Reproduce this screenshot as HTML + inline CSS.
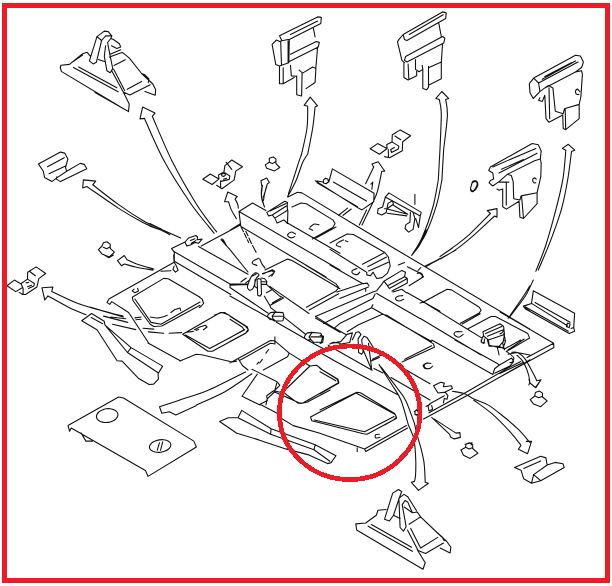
<!DOCTYPE html>
<html><head><meta charset="utf-8"><title>Diagram</title>
<style>html,body{margin:0;padding:0;background:#fff}svg{display:block}</style></head>
<body><svg width="612" height="586" viewBox="0 0 612 586">
<g fill="none" stroke="#111" stroke-width="1.1" stroke-linecap="round" stroke-linejoin="round">
<path d="M90.5 56.3 L87.2 52.3 L82.6 53.7 L69.5 64.4 L60.9 65.2 L60.3 67.5 L61.3 71.4 L119.4 106.2
M73.4 67.5 L118.1 91.8
M78.7 67.1 L116.8 87.8
M72.1 62.2 L82.6 55
M89.4 60.9 L97 36.6 L104.3 31.1 L108.2 31.6 L111.8 35.9 L110.8 38.5
M89.4 60.9 L93.1 63.9 L96.4 62.2 L101.6 40.5 L105.6 35.9 L111.8 35.9
M97 36.6 L101.6 40.5
M105.6 45.8 L104.3 56.3 L106.9 70.7 L110.2 72.7 L112.8 68.8 L108.9 49.7 L107.6 42.5 L110.8 38.5 L113.5 39.5 L119.4 43.8 L120.7 47.1 L116.8 48.4 L111.5 45.8
M98.4 59.6 L104.3 61.5
M110.2 54.3 L120.7 49.7
M109.5 57.1 L121.9 52.5 L123.3 53.1 L129.4 58.1 L141.6 73.5 L152.8 84 L155.7 89.7 L155.2 95.2 L144.9 91.5
M114.1 65.6 L125.2 59.7
M127.2 89.3 L141.6 81.4
M111.4 70.2 L123.3 91.9 L129.8 94.9 L150.2 84.7
M113.7 69.2 L124.6 90.6
M141.6 73.5 L144.9 74.8 L148.9 78.8 L148.2 82.7
M123.3 91.9 L129.2 104.1 L128.5 111.6 L95 92.6
M38.4 163.9 L60.5 152.1 L64.7 153.1 L67.9 159 L65.5 167.6 L66.7 171.3 L80.2 163.4 L84.4 164.4 L86.8 168.8 L60.5 181.6 L56.4 179.1 L56.9 176.7
M38.4 163.9 L43.3 171.3 L44.6 177.4 L51.9 181.6 L56.4 178.1 L66.7 171.3
M47.5 166.8 L64.2 157.7
M49 173.7 L65.5 165.9
M92.7 184.8 L95.7 181.1 L83.4 179.9 L82.7 188 L86.8 186.5
M92.7 184.8 C97 188.1 109.9 198.5 118.3 204.4 C126.6 210.4 135.7 216.3 142.9 220.4 C150 224.5 158.2 227.6 161.3 229
M86.8 186.5 C92.1 190.1 109 202.1 118.3 208.1 C127.6 214.1 135.7 218.7 142.9 222.4 C150 226.1 156.8 228.2 161.3 230.2 C165.8 232.3 168.5 233.9 169.9 234.7
M152.3 116.3 L155 113.1 L142.6 107.1 L140 118.9 L144.5 118.4
M144.5 118.4 C147.7 125.5 156.5 146.9 164.2 161 C171.8 175.1 183 192.1 190.4 203 C197.9 214 204.9 221.6 208.8 226.7 C212.8 231.7 213.2 232.1 214.1 233.2
M152.3 116.3 C155.6 123.7 164.8 146.5 172 161 C179.3 175.4 189.1 192.3 195.7 203 C202.3 213.7 208 220.5 211.5 225.3 C215 230.2 215.8 230.8 216.7 231.9
M265.3 164.9 L269.3 162.3 L269.3 158.3 L273.2 157 L275.9 158.9 L275.9 163.6 L279.8 167.5 L274.5 170.9 L266.7 168.3Z
M269.3 162.3 L272.4 163.6 L275.9 161.5
M235.1 199.1 L237.2 196.4 L227.8 192 L224.6 201.7 L228.5 201.7
M228.5 201.7 C229 203 229.9 206.7 231.2 209.6 C232.5 212.4 235.6 217.2 236.4 218.8
M235.1 199.1 C235.6 199.9 237.2 202.8 237.7 204.3 C238.3 205.9 238.2 207.6 238.3 208.3
M267.2 184.1 L269.3 182.5 L266.7 178 L260.9 180.7 L261.9 186.7
M261.9 186.7 C261.8 188.1 261 192 261.4 195.1 C261.7 198.3 263.6 203.9 264 205.6
M267.2 184.1 C266.7 185.7 265.2 191.1 264.6 193.8 C263.9 196.5 263.7 199.3 263.5 200.4
M281.9 40.7 L279.5 35.8 L317.6 16.9 L321.3 17.4 L320.8 23.5 L289.3 39.5
M290.5 34.6 L317.6 21.1
M272.1 44.4 L276.5 40 L279.5 41.5 L281.9 40.7 L288.1 39.5 L289.3 39.5 L288.8 62.8 L279.5 66 L275.8 64.6Z
M280.7 41.5 L281.5 65.3
M288.1 40.7 L288.1 62.8
M290.5 54.2 L316.3 41.5 L319.3 42.4 L318.3 46.9 L289.3 61.6
M313.4 28.4 L315.1 37
M317.6 46.9 L315.9 67.7
M279.5 66.5 L279.5 83.7 L283.2 83.7 L294.2 77.6
M283.2 67.7 L283.2 83.2
M290.5 65.3 L291.3 75.9 L296.2 76.3
M296.7 75.9 L296.7 94.8 L301.6 96 L302.1 72.7 L299.1 70.2
M302.1 73.4 L312.7 67 L315.9 68.5 L315.1 82.5 L306 88.6
M315.1 107.1 L317.6 105.8 L310.2 97.2 L304.1 105.3 L307.7 106.3
M307.7 106.3 C307.6 109.9 308 120 307 128 C306 135.9 302.5 149.7 301.6 154
M315.1 107.1 C314.7 110.5 313.9 120.1 312.7 128 C311.4 135.8 308.6 149.7 307.7 154
M403.2 34.5 L442.5 11.9 L446.2 12.9 L445.7 18.5 L406.9 40.6 L404.4 39.4Z
M409.3 34.5 L443.2 14.8
M403.2 34.5 L399 39.4 L397.5 41.9 L401.9 60.3 L404.4 62.7
M405.6 56.6 L442.5 36.5 L444.9 38.2 L443.7 43.1 L406.9 62 L404.4 60.3Z
M438.8 23.4 L441.3 36.5
M442.5 44.3 L441.3 62.7
M403.9 62.7 L403.9 77.5 L408.1 79.9 L416.7 75.8 L416.7 71.3
M408.1 64 L408.8 78.7
M415.5 59.6 L415.5 69.4 L419.1 71.8 L422.8 69.4 L422.1 65.2
M422.8 69.4 L422.8 88.5 L426.5 89.8 L428.5 87.3 L428.5 66.4
M428.5 67.7 L441.3 62 L441.3 78.7 L429 84.9
M445.7 99.6 L448.6 98.4 L441.8 91.5 L435.9 98.4 L439.3 99.6
M439.3 99.6 C439.6 101.9 441.1 104.9 441.3 113.1 C441.4 121.4 440.2 143 440 149
M445.7 99.6 C446 102.3 447.7 107.3 447.4 115.6 C447.1 123.8 444.3 143.4 443.7 149
M529.3 83.7 L533.7 78.1 L575.5 55.2 L580.4 56 L583.4 62.1 L581.6 67.5 L575.5 71.9 L544.8 87.9 L539.9 91.6 L533.2 98.5 L530 92.8Z
M533.7 78.1 L538.6 83 L539.9 91.6
M538.6 83 L578 62.1
M542.3 79.3 L575.5 60.9
M544.8 76.4 L571.8 62.6
M575.5 71.9 L581.6 70.7 L582.4 74.4 L580.9 96.5 L579.2 104.4
M579.9 91.6 C579.5 91.2 578.2 89.2 577.5 89.1 C576.7 89.1 575.7 90.3 575.5 91.1 C575.3 91.9 575.9 93.5 576.5 94.1 C577.1 94.6 578.5 94.5 578.9 94.6
M544.8 87.9 L548.5 85.5 L552.9 87.9 L555.3 111.3 L563.2 113.7 L564.4 108.8 L579.2 104.4 L579.2 118.6 L565.7 129.7 L563.2 128.5 L562.7 114.9 L549 122.3 L546 118.6 L544.8 95.3 L542.3 101.4 L538.6 100.2 L539.9 97.7
M549 87.9 L549.7 118.6
M565.2 109.3 L565.7 129.7
M490.4 166.9 L532.2 143.5 L538.3 144.7 L541.2 150.9 L540.3 159 L534.6 160.7 L507.6 174.2 L499 181.6 L492.8 186 L489.1 182.8 L490.4 180.4 L493.6 179.1 L492.8 173 L488.7 170.5Z
M492.8 166.9 L535.8 148.4
M499 173 L537.1 153.3
M501.4 169.3 L523.5 159.5
M540.3 159 L541.2 163.2 L540.8 176.7 L537.1 192.7
M536.3 179.1 C536 178.9 535 177.8 534.4 177.9 C533.7 178.1 532.7 179.3 532.6 180.1 C532.6 180.9 533.3 182.4 533.9 182.8 C534.4 183.2 535.5 182.6 535.8 182.6
M507.6 174.2 L511.3 175.5 L513.2 181.6 L513.7 198.8 L519.9 200 L521.1 195.9 L537.1 192.7 L537.1 203.7 L523.5 218.5 L519.9 217.2 L519.1 201.3 L506.3 209.1 L502.7 206.7 L502.7 189 L499 190.2 L497 189
M506.3 182.8 L506.3 204.9
M499 182.1 L508.8 182.1
M521.6 196.3 L523.5 218.5
M473.2 181.1 C474.1 180.6 476.2 180.7 476.9 181.6 C477.6 182.5 478 184.9 477.4 186.5 C476.7 188.2 474.3 190.8 473.2 191.4 C472.1 192 471 191.4 470.7 190.2 C470.4 189.1 471 186.1 471.5 184.6 C471.9 183 472.3 181.6 473.2 181.1Z
M490.4 213.5 L487.2 210.6 L497 208.6 L497 217.2 L494.6 216
M490.4 213.5 C486.9 217 475.8 228.7 469.5 234.4 C463.1 240.2 457.2 244.3 452.3 248 C447.4 251.6 442 255.1 440 256.6
M494.6 216 C490.8 219.5 478.6 231.2 471.9 236.9 C465.3 242.6 460.1 246.7 454.7 250.4 C449.4 254.1 442.5 257.6 440 259
M571.5 151.6 L574.7 150.2 L568.3 144.3 L562.4 148.4 L565.8 150.2
M565.8 150.2 C565.3 155 564.6 169 562.9 179.1 C561.1 189.3 558.4 200 555.5 211.1 C552.6 222.2 548.9 235.5 545.7 245.5 C542.4 255.5 537.5 267 535.8 271.3
M571.5 151.6 C570.9 156.2 569.4 169.6 567.8 179.1 C566.1 188.6 564.5 198.4 561.6 208.6 C558.8 218.9 554.5 230.3 550.6 240.6 C546.7 250.8 540.3 265.2 538.3 270.1
M265.9 210.6 L252.5 203 L239 211.5 L240.8 226.4
M287.9 197.1 L297.4 192.2 L301.9 192.9
M301.9 192.9 L365 231 L530 329.1
M292 207 L301 203 L306.4 203.7 L332.8 219.9 L335.1 223.5 L332.8 227.6 L312.3 239
M315.9 237.9 L336 227.1
M291.1 232.1 C290.7 232.4 289 232.9 288.4 233.6 C287.9 234.2 287.4 235.4 287.9 236.1 C288.3 236.8 290 237.8 291.1 237.9 C292.2 238 294.1 236.8 294.7 236.6
M292 232.1 L295.6 233.9
M310 227.1 C310.7 226.6 313 224.4 314.5 224 C316 223.7 318.2 224.8 319 224.9
M309.1 228.5 L312.7 230.3
M266.8 212.4 L284.8 201.2 L287.5 202.5 L287.2 205.5 L272.2 215 L268.6 215.9Z
M269.9 210.9 L286.1 203.4
M272.2 215 L274.9 218.1 L287.5 210.2 L287.2 205.5
M274.9 218.1 L277.1 223.1 L283.9 219.9 L287.5 223.5 L287.9 210.2
M262.4 185.4 C262.2 187.3 261.1 193.5 261.5 197.1 C261.8 200.7 264 205.3 264.5 207
M266.8 186.3 L263.3 197.1
M230 230.3 L239.9 224
M241.1 227.1 L243.5 231.8
M244.4 233.6 L246.5 237.9
M247.3 239.7 L248.7 242.5
M245.8 231.2 L248 235.7
M248.9 237.9 L251.6 243.8
M252.5 245.6 L256.1 252.3
M258.8 258.2 C257.9 258.6 254.4 260 253.4 260.9 C252.3 261.8 251.9 262.8 252.5 263.6 C253.1 264.3 256.2 265.1 257 265.4
M259.7 259.1 L262 264.1 L265 268.1
M262.4 273.5 L272.2 270.8 L274 272.6 L271.7 276.2
M330 242.9 L347.1 234 L353.4 234.5 L384.8 252.5 L388.4 257 L390.2 265.9 L387.5 273.1 L382.1 277.6 L376.7 278.5 L373.1 272.2 L370.4 275.8 L366.8 274.9 L366.8 272.2
M384.8 252.5 L362.4 264.2
M386.6 257 L367.7 266.8
M389 262 L368.6 271
M343.5 239.9 C342.6 240.3 339.3 241.7 338.1 242.6 C336.9 243.5 335.8 244.5 336.3 245.3 C336.7 246 340 246.8 340.8 247.1
M345.3 240.8 L348 241.7
M357 268.6 C356.2 268.9 353.2 269.7 352.5 270.4 C351.7 271.2 351.7 272.4 352.5 273.1 C353.2 273.8 355.8 274.7 357 274.6 C358.2 274.4 359.2 272.6 359.7 272.2
M330 249.4 L365.9 271.7
M330 265 L363.3 283.9
M383.9 281.2 L401.9 270.4 L405.5 272.2 L404.6 276.7 L387.5 285.7Z
M387.5 285.7 L389.3 288.4 L407.3 278.5 L404.6 276.7
M392 291.1 L407.3 283 L407.3 278.5
M392.9 292 L401.9 289.3 L406.4 292.9
M377.1 290.2 L382.1 283.9 L383.9 281.2
M376.7 293.6 L419.9 318.4
M371.3 307.6 L419.9 335
M402.8 295.6 C401.9 295.8 398.6 295.9 397.4 296.5 C396.2 297.1 395.3 298.5 395.6 299.2 C395.9 299.9 397.9 301 399.2 301 C400.5 301 402.9 299.5 403.7 299.2
M406.9 292.5 L440 311.2
M407.3 266.8 L419.9 273.1 L423.5 276.7 L409.1 285.7
M398.3 265 L404.6 262.4
M423.5 301.9 L440 292.9
M425.3 265.9 L440 258.8
M420.8 267.7 L418.1 270.4
M426.2 230 C425.1 232.4 422.3 240.2 419.9 244.4 C417.5 248.6 413.1 253.4 411.8 255.2
M239 211.5 L340 269.9
M241 226.5 L326 277
M287.5 223.1 L340 253.3
M265 269.9 L287.5 259.1 L292 260.5 L340 288.7
M230 285.1 L248 284.4
M230 287.5 L268.1 313.2
M230 295.9 L274.6 321.1
M230 316.2 L245.3 326.1 L248.3 329.3 L245.8 332.9 L230 341.4
M230 319.3 L242.2 327 L244 329.7 L230 337.8
M315.4 318 L340 332.4
M305.5 265 L336 283.9 L338.7 287.5 L336 291.1 L306.4 307.2
M309.1 309.9 L338.7 293.8
M267.7 315.3 L270.4 312.6 L274.9 312.1 L283 312.6 L283.9 316.2 L283 320.7 L275.8 321.1 L273.1 318.9 L270.4 319.8 L267.7 317.1Z
M274.9 312.6 L272.2 316.2 L273.1 318.9
M273.1 316.2 L283.6 316.2
M304.6 336 L307.3 332.9 L311.8 332.4 L320.8 333.3 L322.6 336.9 L321.3 342.3 L313.6 342.3 L310.9 339.6 L307.3 340.1 L304.6 337.8Z
M311.8 332.9 L309.1 336.9 L310.9 339.6
M310.9 336.9 L321.7 336.9
M283.9 317.1 L305.5 334.2
M276.4 322.2 L314.5 344.1 L328 351.3
M230 363 L238.1 358.5 L270.4 340.5 L274.9 340.8 L289.3 353.1 L287.5 356.7 L263.3 370
M239.9 360.3 L270.4 343.2 L274 343.7
M274.9 336.9 L274.9 344.1
M265.9 353.1 L268.6 349.5
M259.7 363 L262.4 359.4
M257 364.2 L258.8 362.1
M238.1 358.5 L242.6 365.7 L248 370
M289.3 353.1 L310 366
M329.8 344.1 L333.3 342.3 L340 343.2
M185 242 L171.6 248.6 L174.3 252.2 L174.3 261.2
M174.3 251.7 L230 284.1 L248 284.1
M230 284.6 L230 287.6
M174.3 261.2 L230.9 294.5
M198.5 246.5 L248 274.3
M201.2 245.9 L239.9 225.3
M221 239.7 L229.1 248.6 L248 272
M221.9 238.8 L225.5 245
M223.3 239.7 L226.4 245.6
M185 242 L188.6 237.9 L195.8 235.5 L197.6 237 L197.1 239.7 L202.1 239.1 L198.5 243.3 L194.9 242.4 L190.4 245 L186.8 245.9Z
M190.4 240.6 L194.9 238.8
M191.3 243.3 L195.8 240.6
M150 223.5 L161.7 229.4 L180.6 237.9
M150 226.2 L160.8 230.1
M199.4 297.4 L202.1 299 L203.6 303.5 L200.3 307.1 L199.4 307.6
M214.7 315 L221.9 312.5 L229.1 315
M247.7 285.4 C248.3 283.4 250 278.6 251.2 276.6 C252.3 274.5 253.6 273.7 254.6 273.1 C255.6 272.6 256.3 272.8 257.1 273.1 C257.8 273.5 259.2 274.2 259 275.1 C258.9 276 257 276.5 256.1 278.5 C255.2 280.6 254.6 285.4 253.6 287.4 C252.6 289.3 251.2 290.1 250.2 290.3 C249.2 290.5 248.2 289.2 247.7 288.3 C247.3 287.5 247.2 287.4 247.7 285.4Z
M252.6 276.1 L256.1 274.1
M255.1 279.5 L254.6 286.4 L256.6 287.8
M257.1 279.5 L258.5 278.5 L261 279.5 L261.5 294.2 L260 296.2 L257.7 295.2Z
M261 278 L264.4 278.5 L266.9 281.5 L266.4 284.4 L261.5 284.4
M261.5 281.5 L266.4 282
M264.4 296.2 L269.8 305.5 L283.5 298.1 L279.1 295.7 L270.8 288.3 L266.4 284.4
M266.4 292.7 L271.8 289.8
M272.3 303 L280.6 298.1
M269.8 305.5 L270.8 307.9 L276.2 311.9
M240.9 282 L246.3 278
M245.8 282.9 L249.7 280
M262.9 274.1 L272.3 269.7 L274.7 271.2 L273.7 273.1 L268.8 276.6
M301.6 154 C301.1 155.6 299.6 159.5 298.3 163.4 C297 167.3 295.5 172.6 293.8 177.7 C292.1 182.8 289.3 191.2 288.4 193.9
M307.8 154 C307.2 154.8 305.5 157.3 304.5 159 C303.5 160.7 303.2 160.9 301.9 164.3 C300.6 167.7 298.4 174.9 296.5 179.5 C294.6 184.1 291.7 189.2 290.2 192.1 C288.7 194.9 287.9 195.8 287.5 196.6
M381.8 171.2 L384.8 171.2 L378.2 161.7 L371.9 164 L373.7 167.1
M373.7 167.1 L365.6 183.8
M381.8 171.2 C381 174.7 378.9 186.4 377.3 191.9 C375.6 197.4 374.4 199 371.9 204.5 C369.3 210 363.7 221.6 362 225
M371 184.2 L372.8 182 L371.9 189.2
M315.3 180.8 L358.4 208.1 L362 209.9 L373.7 201.8 L374.1 193.3 L332.4 168.9 L328.8 182
M315.3 180.8 L323.4 182
M317.1 182.9 L357.5 206.6
M333.3 182 L366.5 200.9
M323.4 180.2 L325.2 178.4 L327.9 179 L328.4 182 L326.1 183.8 L323.4 182.9Z
M338.6 215.3 L347.6 208.1
M343.1 215.3 L351.2 209
M366.5 209.9 L359.3 225
M385.3 197.1 L388.9 192.9 L421.2 212.4 L420.3 215.9 L387.1 198Z
M385.3 197.1 L382.6 207 L378.1 208.8 L377.5 213.3 L381.7 215 L386.2 212.4 L388 203.4 L392.5 200.7 L393.4 204.3 L387.1 208.8 L384.4 208.8
M386.2 208.8 L407.7 214.2 L393.4 205.2
M387.1 213.3 L406.8 215.9
M410.4 212.4 L409.9 222.2 L405.9 224.6 L405 228.5 L408.6 232.1 L413.1 229.4 L414.9 218.6 L413.1 212.4
M415.8 218.6 L418.5 227.6 L420.3 215.9
M414.9 194.4 L414.9 204.3
M438.3 180 C437.4 184.5 435.6 197.4 432.9 207 C430.2 216.5 425.7 229.4 422.1 237.5 C418.6 245.6 413.4 252.5 411.7 255.5
M441.9 180 C441 184.2 439.2 196.2 436.5 205.2 C433.8 214.2 429.6 225.8 425.7 233.9 C421.8 242 415.2 250.4 413.1 253.7
M439.9 258.5 L426.6 266.3
M440 149 L438.3 180
M443.7 149 L441.9 180
M472.5 182.7 C473.2 182.2 475.3 181.3 476 181.8 C476.8 182.2 477.4 183.9 476.9 185.4 C476.5 186.9 474.4 190.2 473.3 190.8 C472.3 191.4 471 190 470.7 189 C470.4 187.9 471.3 185.5 471.6 184.5 C471.9 183.4 471.7 183.1 472.5 182.7Z
M455.9 250 C453 251.6 443.1 257.2 438 259.9 C432.9 262.6 427.5 265.1 425.4 266.2
M420 303 L423.6 302.1 L447 289.2 L451.5 289.9 L479.3 307.2 L481.1 310.2 L479.3 312.9 L460.4 323.3
M462.2 324.1 L480.2 313.8
M423.6 302.1 L466.7 328.7 L482 338.1
M420 318.3 L481.1 355
M462.2 331.8 C461.2 331.8 457.3 331.3 455.9 331.8 C454.6 332.2 453.7 333.6 454.2 334.5 C454.6 335.4 457.1 337.2 458.6 337.2 C460.1 337.2 462.4 334.9 463.1 334.5
M467.6 329.1 L491 316.5 L495.5 316.5 L527.8 333.6 L529.6 338.1 L506.3 351.6
M508.1 349.8 L524.2 339
M482.9 331.8 L500 323.7 L503.6 326.4 L504.5 334.5 L488.3 339.9 L483.8 336.3Z
M485.6 333.6 L501.8 326.4
M487.4 336.3 L502.7 330
M482.9 336.3 L481.1 341.7 L483.8 343.5 L484.7 339
M488.3 339.9 L489.2 345.3 L497.3 347.1 L499.1 355
M504.5 334.5 L502.7 343.5 L504.5 349.8
M497.3 347.1 L503.6 348
M530 285.9 C528.4 288.3 524.3 294.9 520.7 300.3 C517 305.7 510.2 315.3 508.1 318.3
M530 303.9 L523.3 306.6 L530 311.1
M508.1 354.2 L517.1 352.5 L530 355
M417.3 273.4 C417.9 273.3 420 272.6 420.9 273 C421.8 273.5 422.8 275 422.7 276.1 C422.5 277.1 420.4 278.6 420 279.1
M531.5 303.4 L533.3 290.8 L574.6 313.3 L573.7 327.6 L571 328.5
M567.4 325.8 L531.5 303.4 L523.4 306.1 L525.2 308.8 L569.2 333.6 L574.6 331.2 L573.7 327.6
M525.5 307 L568.3 331.2
M535 302.5 L570.1 322.2
M567.4 323.1 L570.1 324 L569.2 327.6 L566.5 326.7Z
M500 312 L553.6 343.3 L553.9 347.4 L500 377.1
M553.6 343.3 L527 357.6
M500 373.5 L522.5 362.7
M533.3 280 C531.9 282.7 529.2 289.9 525.2 296.2 C521.1 302.5 511.7 314.2 509 317.7
M511.7 352.3 C512.7 352.3 515.7 351.7 518 352.8 C520.2 353.9 522.6 355.6 525.2 359.1 C527.7 362.5 531.3 369.9 533.3 373.5 C535.2 377.1 536.2 379.5 536.8 380.7
M517.1 355.5 C518 356.4 520.8 358.5 522.5 360.9 C524.1 363.3 525.8 366.6 527 369.9 C528.2 373.2 529.4 378.1 529.7 380.7 C530 383.2 528.9 384.2 528.8 385
M536.8 380.7 L541 379.8 L535.9 387.8
M500 324 C500.6 324.5 503.1 325.4 503.6 326.7 C504 328.1 503.3 330.9 502.7 332.1 C502.1 333.3 500.4 333.6 500 333.9
M503.6 333.9 C503.9 335.1 505.5 338.7 505.4 341.1 C505.2 343.5 503.1 347.1 502.7 348.3
M507.2 351.9 C508.2 352.8 512.6 355.6 513.5 357.3 C514.4 358.9 513.2 360.9 512.6 361.8 C512 362.7 510.3 362.5 509.9 362.7
M431.7 340 L492.8 374.5 L494.6 368.8 L499.1 365.2 L511.7 358 L513.5 361.6 L509.9 366.1 L494.6 373.3
M455 340 L497.3 363.4 L499.1 365.2
M429 412.8 L464.9 393 L509.9 367 L520.7 361.6
M423.6 419.1 L466.7 395.7 L522.5 364.3 L530 359.8
M430.8 363.4 C429.9 363.4 426.4 362.8 425.4 363.4 C424.3 364 423.9 366.1 424.5 367 C425.1 367.9 427.6 368.9 429 368.8 C430.3 368.6 432 366.5 432.6 366.1
M433.5 385.8 L440.7 382.2 L444.3 383.1 L443.4 386.7 L451.5 385.8 L452.4 388.5 L445.2 392.1 L438 393Z
M445.2 392.1 L447.9 395.7 L447 399.3 L444.3 398.4 L443.4 402.9
M444.3 395.7 L429.9 403.8 L428.1 406.5 L429 411 L432.6 409.2 L431.7 405.6
M452.4 391.2 C454.3 391.6 460.4 392.3 464 393.6 C467.6 394.9 469.9 397 473.9 399 C478 400.9 483.2 402 488.3 405.1 C493.4 408.1 499.4 413.2 504.5 417.3 C509.6 421.4 514.6 425.7 518.9 429.9 C523.1 434.1 528.1 440.4 530 442.5
M473.9 400.2 C476.9 402.5 485.9 408.5 491.9 413.7 C497.9 418.9 505.1 426.5 509.9 431.7 C514.7 436.9 518.9 442.8 520.7 445
M431.7 417.3 L449.7 434.4 L450.6 437.1 L454.2 438.9 L460.4 437.4 L459.9 432.6 L455.9 433.1 L434.4 419.1
M481.1 340 L482 342.7 L484.7 342.7
M487.4 340 L489.2 346.3 L499.1 346.3 L504.5 340
M499.1 346.3 L504.5 349 L520.7 340
M464.9 444.2 L472.1 442.8 L471.2 445
M330.8 343.4 L340.7 341.6 L347 334.4 L352.4 332.9 L349.7 342.5 L339.8 344.3
M352.4 339.8 L355.9 332.6 L358.6 331.7 L361 334.4 L358.1 338.9 L358.6 352.4 L361.7 354.2 L363.1 352 L361.7 339.8 L364 336.2 L367.1 337.6 L373 347
M363.1 349.7 L371.8 370.3 L368.5 343.4
M379 364.6 C381.1 367.9 388.2 378.8 391.9 384.7 C395.6 390.6 398.1 393.3 400.9 400 C403.6 406.7 407.2 420.8 408.4 425
M381.1 367.1 C383.8 370.6 393.2 382.7 397.3 388.3 C401.4 393.9 403.1 395 405.9 400.9 C408.8 406.7 413 419.6 414.4 423.3
M328.1 345.2 L372.1 370.3
M373.9 368.5 L382.9 373
M391 377.5 L430 400
M320 352.4 L337.1 362.2 L397.3 394.6
M320 368.5 L338 379.3 L338.9 382.9 L320 393.7
M320 371.8 L335.8 380.8
M320 409.9 L356.8 392.3 L360.4 392.8 L394.6 413.5 L396.4 417.1 L393.7 419.8 L384.7 425
M371.2 361 L379.3 357.4
M427.8 363.1 C427.1 363.4 423.8 364 423.3 364.9 C422.9 365.8 424 367.9 425.1 368.5 C426.3 369.1 429.2 368.5 430 368.5
M401.8 367.6 L430 383.8
M320 335.3 L323.6 336.2 L322.7 342.5 L320 343.4
M414.4 411.7 C415 411.2 416.9 409 418 409 C419 409 420.7 410.6 420.7 411.7 C420.7 412.7 418.9 414.8 418 415.3 C417.1 415.7 415.7 414.5 415.3 414.4
M426 406.3 L430 404.5
M310.5 417 L356 392.9 L395.3 414.6 L396.6 418.3 L367.1 434.2 L363.4 433.7 L311.8 420.7Z
M314.2 420 L364.6 431.8 L394.1 416.5
M379.4 434.2 C378.7 434.3 376.3 434.1 375.7 434.7 C375.1 435.3 374.9 437.5 375.7 437.9 C376.4 438.3 379.4 437.3 380.1 437.2
M281.1 418.3 L293.3 425.6 L319.1 433 L364.6 449 L406.4 425.6
M364.6 449 L365.8 451.4 L407.6 428.1
M357.2 447.7 L357.2 451.4
M286 396.9 L300.7 403.5 L306.9 402.3 L330.2 390
M415 410.9 L417.4 409.7 L418.7 414.6 L415 414.6Z
M386.1 509.5 L378 510.3 L376.3 515.2 L365.7 523 L355.8 523.9 L356.6 530 L423 569.3 L425.2 562.8 L417.3 549.7
M368.1 526.2 L412.4 551.3
M371.4 524.6 L411.6 547.2
M407.5 530 L418.1 550.5 L425.5 553.4 L443.5 543.1
M410.7 528.4 L420.6 548 L437.8 537.4
M409.1 524.3 L420.6 516.9
M404.2 507 L412.4 512.8 L417.3 512 L420.6 516.9 L437 532.5 L446.8 541.5 L450.9 547.2 L450.1 553 L440.2 548
M437 532.5 L441.9 536.6 L444.3 540.7
M384.5 519.3 L392.7 493.1 L398.4 489.5 L401.7 491.5 L399.3 498 L393.5 515.2 L389.4 521Z
M398.9 498.4 L403.9 494.4 L407.8 496.7 L416.5 510.8
M402.2 504.6 L405 500.5 L407.8 502.1 L412.4 512.8
M398.9 498.4 L400.1 527.5 L403.4 531.1 L406.1 526.7 L402.2 504.6
M393.5 515.2 L400.1 518.5
M174.1 262.2 L108.9 299 L107.1 302.6 L109.8 304.4 L111.6 301.7
M112.5 302.1 L128.6 312.5 L149.3 344
M200 297.2 L168.2 278.7 L163.7 278.4 L132.2 297.2 L133.1 300.8 L150.2 324.2 L153.8 326.5 L161.9 326 L200 305.3
M134.9 299 L151.1 322.4 L161 324.2 L200 302.1
M150.2 317 C151.6 317.2 155.5 318.2 158.3 317.9 C161.1 317.6 165.8 315.7 167.3 315.2
M170.9 312.5 L174.5 309.8 L179.9 308 L180.8 310.7
M134 289.2 L132.2 290.9 L134.9 292.7 L138.5 290.9 L137.6 288.3
M127 259.7 L124.3 255.5 L117.5 260.6 L121.6 265.8 L124.3 264
M127 259.7 C128.6 260.4 132.3 262.4 136.7 264 C141.2 265.5 151 268.2 153.8 269
M124.3 264 C126.4 264.5 132 266.2 136.7 267.2 C141.5 268.2 150.2 269.6 152.9 270.1
M104.4 255 L108.9 257.7 L113.4 255
M173.6 255 L174.1 262.2
M174.1 262.2 L176.3 265.8 L178.1 270.3 L175.4 272.1 L173 269.4 L174.1 266.1
M161 271.2 L170.9 270.8
M90 307.1 L123.3 317
M103.5 316.1 L127.7 322.4
M110.7 317 L125.9 318.8
M112.5 324.2 L135.8 329.6
M134.9 317.9 L141.2 317
M135.8 319.7 L141.2 319.3
M143 328.3 L153.8 329.1
M148.4 331.9 L163.7 333.2
M169.1 333.2 L181.7 332.6
M187.1 332.3 L193.3 331.4
M196 330.5 L198.7 329.6
M182.7 334.2 L220.4 312.6 L224.9 312.6 L247.4 327 L248.3 330.6 L245.6 333.3 L212.4 351.2 L207.9 351.2Z
M185.4 335 L209.7 348.5 L244.7 329.7
M194.4 329.7 L199.8 327 L205.2 325.2 L207 327 L203.4 329.7
M180 361.1 L196.2 354.3 L201.6 354.8 L232.1 362 L236.6 361.1
M180 399.8 C184.5 398.3 196 395.4 207 390.8 C217.9 386.1 239.2 375 245.6 371.9
M196.2 405 C201 402.8 215.6 396.9 224.9 391.7 C234.2 386.5 247.4 376.7 251.9 373.7
M251.9 369.2 L277.1 381.8 L274.4 392 L267.2 398.9 L265.9 405
M257.3 374.1 L242 396.2 L260 405
M274.4 392 L290 398.5
M278 382.7 L279.8 385.4 L275.3 389.9
M98.4 249.7 L102.1 246 L103.3 242.8 L107 241.8 L110.2 244.3 L110.2 248.4 L114.4 252.1 L109.4 257 L102.1 254.1Z
M103.3 247.2 L106.7 248.7 L110.2 246.7
M51.7 291.4 L52.9 287 L41.9 287.7 L44.8 300 L48 295.9
M51.7 291.4 C56.2 293.5 69.3 300.2 78.7 303.7 C88.1 307.2 100.8 310.3 108.2 312.3 C115.6 314.4 120.5 315.4 123 316
M48 295.9 C51.5 297.8 62.5 304.3 68.9 307.4 C75.2 310.6 83.2 313.5 86.1 314.8
M68 425.4 L118.6 397 L123.5 398 L193.8 441.1 L196.4 447 L148 476.4 L145.4 470.5 L71.2 428 L69.6 431.3Z
M81 432.9 L85.9 441.1 L92.5 441.1
M117.9 414 C118 414.9 117.8 415.9 117.4 416.7 C117 417.6 116.3 418.5 115.5 419.3 C114.6 420 113.4 420.8 112.2 421.3 C111 421.8 109.6 422.2 108.2 422.4 C106.9 422.6 105.4 422.6 104.1 422.5 C102.7 422.4 101.4 422 100.4 421.6 C99.3 421.1 98.4 420.4 97.7 419.7 C97.1 419 96.7 418.1 96.5 417.2 C96.4 416.4 96.5 415.4 96.9 414.5 C97.3 413.6 98.1 412.7 98.9 412 C99.8 411.2 101 410.5 102.2 410 C103.4 409.4 104.8 409 106.2 408.8 C107.5 408.6 109 408.6 110.3 408.7 C111.6 408.9 113 409.2 114 409.7 C115.1 410.1 116 410.8 116.6 411.5 C117.3 412.3 117.7 413.1 117.9 414Z
M170.8 444.4 C170.9 445.2 170.7 446.1 170.3 446.9 C169.9 447.7 169.2 448.5 168.3 449.2 C167.4 449.9 166.3 450.6 165.1 451.1 C163.9 451.6 162.4 451.9 161.1 452.2 C159.7 452.4 158.2 452.4 156.9 452.3 C155.6 452.2 154.3 451.9 153.2 451.5 C152.2 451.1 151.3 450.5 150.6 449.9 C150 449.2 149.6 448.4 149.5 447.6 C149.3 446.8 149.5 446 149.9 445.2 C150.3 444.4 151.1 443.5 151.9 442.8 C152.8 442.1 154 441.4 155.2 441 C156.4 440.5 157.8 440.1 159.2 439.9 C160.6 439.7 162.1 439.6 163.4 439.7 C164.7 439.8 166 440.1 167 440.5 C168.1 440.9 169 441.5 169.6 442.2 C170.3 442.8 170.7 443.6 170.8 444.4Z
M159.5 442.7 L157.2 450.3
M162.7 441.8 L160.5 450.3
M148 343.1 L180.7 361
M159.5 406.8 L180.1 399.9
M175.8 415 L196.1 405.8
M159.5 406.8 L161.8 413.3 L169.3 411.7 L175.8 415
M241.7 410.4 L271.1 428.8 L315.2 444.8 L336 455.8 L331.1 462.6 L327.5 463.6 L307.8 454.6 L285.8 448.9 L258.8 439.9 L236.8 433.2 L219.6 421.5 L228.2 417.8 L238 417.8 L241.7 410.4
M238 417.8 L270.6 434.2 L314 449.7 L329.9 461.2
M271.1 428.8 L270.6 434.2
M315.2 444.8 L314 449.7
M260 404.3 L267.4 400.6 L266.7 395.7 L273.5 390.8
M273.5 390.8 L284.6 393.3 L298 403.1 L302.9 403.1 L338.5 382.7 L337.3 379.3 L322.5 370
M260 404.3 L280.9 415.3
M526.3 441.4 L531.5 441.4 L527.6 453.7 L518.4 449.3 L521 445.4
M530.2 399.6 L534.6 396.2 L535.4 392.5 L539.3 391 L542.5 393.1 L542.5 397 L547.2 400.9 L540.7 406.7 L533.6 404.1Z
M535.4 396.2 L538.8 397.8 L542.5 396.2
M460.9 450.1 L465.4 447.5 L466.1 444.1 L469.3 442.7 L472.7 444.8 L472.7 448.5 L477.9 453.2 L470.1 458.4 L463.5 455.3Z
M466.1 447.5 L469.3 449 L472.7 447.5
M514.5 467.6 L540.7 456.3 L545.9 457.9 L547.2 465 L555 462.4 L562.9 463.7 L564.2 467.6 L540.7 480.7 L531.5 483.3 L523.7 478.8 L521 470.2Z
M547.2 465 L533.6 474.6 L531.5 483.3
M533.6 474.6 L540.7 480.7
M523.7 468.4 L540.7 461
M529 379 L530 383 L535.4 387.5 L541 379.8
M419.9 335 L431.7 341.5
M347.2 331.7 L358 325 L382.2 314.3 L386.7 315.2 L433.5 343.9 L434.4 347.2 L402 361.9
M404.7 359.2 L431.7 345.7
M372.4 359.2 L380.4 355.6
M81.7 320.7 L91.6 313.5 L104.2 321.2 L105 325.2 L131.1 347.6 L162.6 366.1 L158.1 373.7 L158.4 379.1 L153.6 384.1 L149.1 384.5 L138.3 378.2 L122.1 361.1 L117.1 360.8 L97 329.7Z
M91.2 317.6 L102.7 323.7
M105.9 326.1 L127.5 352.5 L131.1 347.6
M127.5 352.5 L158.1 372.8
M284.6 393.3 L284 391 L310 366 L316.7 365.3 L322.5 370
M202.8 179.2 L210.2 174 L219 178.9 L212.2 184.5Z
M219 178.9 L218.5 175 L223.9 172.1 L224.9 165.7 L231.8 160 L242.5 166.7 L235.7 171.1 L234.2 179.9 L222 188.7 L216.6 185.3
M220.5 180.9 L220.7 187.7
M223.9 172.1 L229.8 176 L229.3 179.4 L221 181.4
M226.2 162.3 L231.8 169.4
M221.5 174.5 C221.7 174.1 223.8 173.4 224.4 173.5 C225.1 173.6 225.6 174.5 225.4 175 C225.1 175.5 223.6 176.4 222.9 176.3 C222.3 176.2 221.2 175 221.5 174.5Z
M223.4 179.2 L226.4 178.4
M370.1 148.7 L377.5 143.6 L387.1 148.5 L379.5 154.2Z
M387.1 148.5 L386.8 144.6 L392 141.9 L392.3 134.8 L400.3 129.9 L410.6 135.8 L402.7 141.7 L402.3 150.7 L389.5 157.8 L384.6 156.6
M388.3 149.5 L388.5 157.4
M392 141.9 L398.8 146.1 L398.3 149 L391.5 152.5 L390.7 149.5 L394.4 147.4
M394.9 136 L400.8 139.7
M7 285.7 L14.3 280.1 L21.2 284 L22.6 287.5 L15.8 291.6Z
M21.2 283.5 L27.5 279.1 L27.7 272.3 L36.2 266.9 L45.7 273.5 L38.8 278.6 L36.9 287 L25.6 294.5 L22.6 294.5 L19.2 292.4
M23.1 287.9 L23.1 294.3
M27.5 279.1 L34.4 283.5 L33.9 286 L28.5 288.4
M30 271.8 L35.4 275.7
M26.1 282.9 L28.5 282.4
M27.5 286.7 L31.5 285.3
M269.8 286.4 L309 313.5
M408.4 425 C409.2 426.9 412.1 432.9 413.2 436.6 C414.3 440.3 414.6 443.1 415 447.3 C415.4 451.5 415.7 456.9 415.8 461.7 C415.9 466.5 415.7 472.7 415.5 476 C415.3 479.3 414.6 480.5 414.4 481.4
M414.4 423.3 C414.9 425.5 416.5 432.3 417.6 436.6 C418.7 440.9 420.1 444.9 421.2 449.1 C422.2 453.3 423.3 457.8 423.9 461.7 C424.5 465.6 424.6 469 424.8 472.4 C425 475.8 425.1 480.6 425.2 482.3
M414.4 481.4 L411.4 482.3 L418.5 490.4 L428.4 483.2 L425.2 482.3
M337 292.1 L362.1 283.7 L367.2 283.1 L369 285.8
M339.7 298.4 L368.4 287.1
M315.4 316.4 L372.9 292.1 L376.9 290.7
M323.5 323.6 L372.9 298.4 L375.1 293.9
M339.7 323.6 L371.1 307.9 L372.9 304.7
M315.4 316.4 L334.3 328.1 L345.9 334.4
M334.3 328.1 L339.7 323.6
M365.7 288.5 L365.7 291.2"/>
</g>
<ellipse cx="349.7" cy="412.8" rx="70.3" ry="66.75" fill="none" stroke="#ed1c24" stroke-width="4.7" shape-rendering="crispEdges"/>
<rect x="4.5" y="5.5" width="603" height="575" fill="none" stroke="#ed1c24" stroke-width="5" shape-rendering="crispEdges"/>
</svg></body></html>
